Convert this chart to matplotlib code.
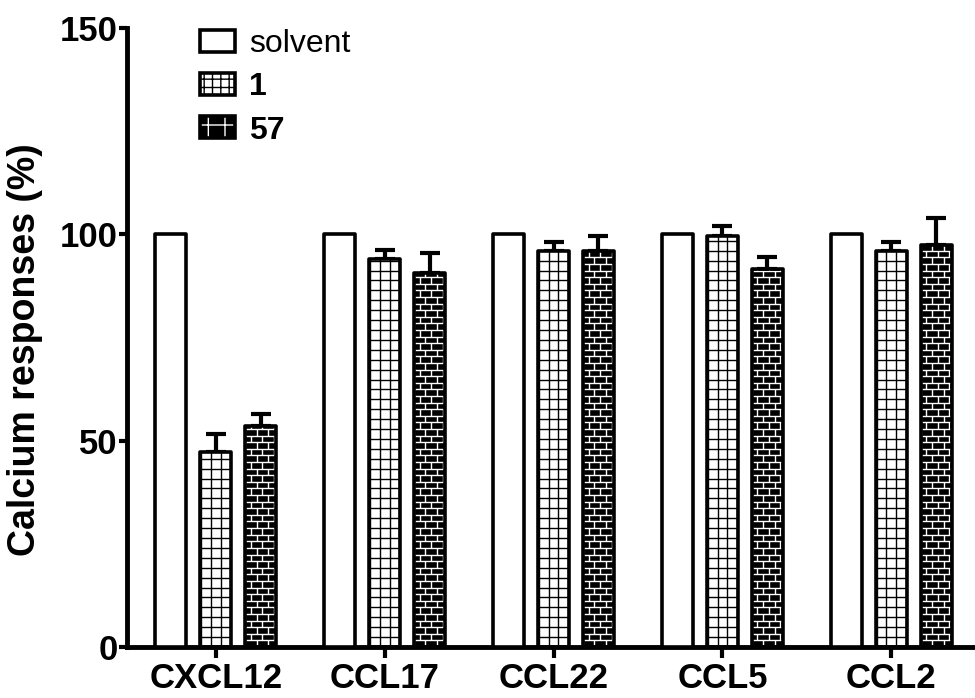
import matplotlib.pyplot as plt
import numpy as np
from matplotlib.collections import LineCollection
from matplotlib.patches import Patch
from matplotlib.legend_handler import HandlerTuple

plt.rcParams["font.family"] = ["Liberation Sans", "DejaVu Sans"]

chemokines = ["CXCL12", "CCL17", "CCL22", "CCL5", "CCL2"]
series = ["solvent", "1", "57"]
solvent = [100, 100, 100, 100, 100]
cmpd1 = [47.2, 94.0, 96.0, 99.5, 96.0]
cmpd1_err = [4.5, 2.2, 2.2, 2.5, 2.0]
cmpd57 = [53.5, 90.5, 96.0, 91.5, 97.5]
cmpd57_err = [3.0, 5.0, 3.5, 3.0, 6.5]

x = np.arange(len(chemokines))
offset = 0.266
width = 0.185
lw = 2.6


def draw_bricks(ax, bar, row_h=1.6, brick_w=0.068):
    """White brick lines inside a black bar, clipped to the bar."""
    x0, y0 = bar.get_x(), bar.get_y()
    w, h = bar.get_width(), bar.get_height()
    segs = []
    for i, yb in enumerate(np.arange(y0, y0 + h, row_h)):
        segs.append([(x0, yb), (x0 + w, yb)])
        start = x0 + (brick_w / 2 if i % 2 else 0)
        for xv in np.arange(start, x0 + w, brick_w):
            segs.append([(xv, yb), (xv, yb + row_h)])
    lc = LineCollection(segs, colors="white", linewidths=1.0, zorder=2)
    ax.add_collection(lc)
    lc.set_clip_path(bar)


def draw_grid(ax, bar, row_h=2.4, col_w=0.058):
    """Black square grid inside a white bar, clipped to the bar."""
    x0, y0 = bar.get_x(), bar.get_y()
    w, h = bar.get_width(), bar.get_height()
    segs = [[(x0, yb), (x0 + w, yb)] for yb in np.arange(y0, y0 + h, row_h)]
    segs += [[(xv, y0), (xv, y0 + h)] for xv in np.arange(x0 + 0.006, x0 + w, col_w)]
    lc = LineCollection(segs, colors="black", linewidths=1.0, zorder=2)
    ax.add_collection(lc)
    lc.set_clip_path(bar)


fig = plt.figure(figsize=(9.75, 6.98), dpi=100)
ax = fig.add_axes([0.130, 0.0731, 0.869, 0.887])

# solvent
ax.bar(x - offset, solvent, width, facecolor="white", edgecolor="black",
       linewidth=lw, joinstyle="round", zorder=3)

# compound 1: grid pattern
ax.errorbar(x, cmpd1, yerr=[np.zeros(len(x)), cmpd1_err], fmt="none",
            ecolor="black", elinewidth=3, capsize=7, capthick=3, zorder=1)
bars1 = ax.bar(x, cmpd1, width, facecolor="white", linewidth=0, zorder=2)
for b in bars1:
    draw_grid(ax, b)
ax.bar(x, cmpd1, width, fill=False, edgecolor="black",
       linewidth=lw, joinstyle="round", zorder=3)

# compound 57: brick pattern on black
ax.errorbar(x + offset, cmpd57, yerr=[np.zeros(len(x)), cmpd57_err], fmt="none",
            ecolor="black", elinewidth=3, capsize=7, capthick=3, zorder=1)
bars57 = ax.bar(x + offset, cmpd57, width, facecolor="black", linewidth=0, zorder=2)
for b in bars57:
    draw_bricks(ax, b)
ax.bar(x + offset, cmpd57, width, fill=False, edgecolor="black",
       linewidth=lw, joinstyle="round", zorder=3)

ax.set_xlim(-0.527, 4.49)
ax.set_ylim(0, 150)
ax.set_yticks([0, 50, 100, 150])
ax.set_xticks(x)
ax.set_xticklabels(chemokines, fontsize=25, fontweight="bold")
ax.tick_params(axis="y", labelsize=25, width=3, length=6, pad=0.5)
ax.tick_params(axis="x", width=3, length=8, pad=3)
for lab in ax.get_yticklabels():
    lab.set_fontweight("bold")
ax.set_ylabel("Calcium responses (%)", fontsize=27, fontweight="bold")
ax.yaxis.set_label_coords(-0.099, 0.48)

for side in ["top", "right"]:
    ax.spines[side].set_visible(False)
for side in ["left", "bottom"]:
    ax.spines[side].set_linewidth(3.5)
ax.spines["left"].set_bounds(0, 150)

# legend
h_solvent = Patch(facecolor="white", edgecolor="black", linewidth=lw)
h_1 = (Patch(facecolor="white", edgecolor="black", hatch="++", linewidth=0),
       Patch(fill=False, edgecolor="black", linewidth=lw))
h_57 = (Patch(facecolor="black", edgecolor="white", hatch="+", linewidth=0),
        Patch(fill=False, edgecolor="black", linewidth=lw))
leg = ax.legend([h_solvent, h_1, h_57], series, loc="upper left",
                bbox_to_anchor=(0.052, 1.045), frameon=False, fontsize=23,
                handlelength=1.1, handleheight=0.68, handletextpad=0.45,
                labelspacing=0.42,
                handler_map={tuple: HandlerTuple(ndivide=1, pad=0)})
texts = leg.get_texts()
texts[1].set_fontweight("bold")
texts[2].set_fontweight("bold")

fig.savefig("out.png", dpi=100)
